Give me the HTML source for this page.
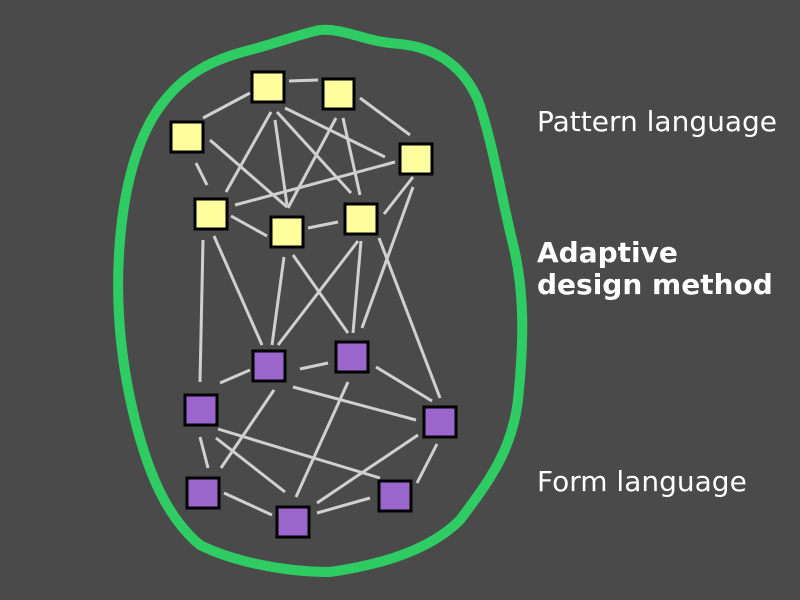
<!DOCTYPE html>
<html><head><style>
html,body{margin:0;padding:0;background:#4a4a4a;}
svg{display:block}
text{font-family:"DejaVu Sans","Liberation Sans",sans-serif;fill:#fff;font-size:28px}
</style></head><body>
<svg width="800" height="600" viewBox="0 0 800 600">
<rect width="800" height="600" fill="#4a4a4a"/>
<path d="M320,30 C345,28 365,42 400,44 C440,48 465,70 478,100 C492,140 500,190 512,240 C525,290 524,340 518,400 C512,450 490,480 460,520 C430,550 380,565 330,572 C280,572 230,560 200,545 C170,520 150,480 135,420 C120,360 115,300 120,240 C125,180 140,130 165,100 C185,75 210,60 250,50 C280,42 300,34 320,30 Z" fill="none" stroke="#2ecc63" stroke-width="10" stroke-linejoin="round"/>
<g stroke="#d0d0d0" stroke-width="3" stroke-linecap="butt">
<line x1="289" y1="81" x2="318" y2="80"/>
<line x1="250" y1="93" x2="203" y2="118"/>
<line x1="360" y1="98" x2="410" y2="135"/>
<line x1="285" y1="108" x2="385" y2="157"/>
<line x1="271" y1="112" x2="226" y2="192"/>
<line x1="275" y1="120" x2="287" y2="205"/>
<line x1="277" y1="112" x2="351" y2="193"/>
<line x1="336" y1="118" x2="288" y2="208"/>
<line x1="343" y1="118" x2="360" y2="195"/>
<line x1="210" y1="140" x2="287" y2="207"/>
<line x1="196" y1="163" x2="207" y2="185"/>
<line x1="395" y1="162" x2="235" y2="205"/>
<line x1="231" y1="216" x2="267" y2="236"/>
<line x1="308" y1="228" x2="338" y2="222"/>
<line x1="413" y1="177" x2="384" y2="214"/>
<line x1="413" y1="187" x2="362" y2="328"/>
<line x1="203" y1="240" x2="200" y2="382"/>
<line x1="214" y1="236" x2="262" y2="345"/>
<line x1="284" y1="257" x2="272" y2="345"/>
<line x1="293" y1="255" x2="348" y2="333"/>
<line x1="358" y1="241" x2="278" y2="345"/>
<line x1="361" y1="241" x2="353" y2="333"/>
<line x1="379" y1="238" x2="440" y2="398"/>
<line x1="220" y1="383" x2="250" y2="370"/>
<line x1="300" y1="369" x2="328" y2="363"/>
<line x1="376" y1="367" x2="432" y2="401"/>
<line x1="293" y1="387" x2="416" y2="420"/>
<line x1="218" y1="429" x2="380" y2="478"/>
<line x1="216" y1="438" x2="285" y2="492"/>
<line x1="200" y1="437" x2="208" y2="468"/>
<line x1="274" y1="390" x2="221" y2="468"/>
<line x1="348" y1="382" x2="296" y2="497"/>
<line x1="418" y1="435" x2="317" y2="503"/>
<line x1="437" y1="444" x2="417" y2="483"/>
<line x1="224" y1="493" x2="272" y2="515"/>
<line x1="317" y1="513" x2="370" y2="498"/>
</g>
<g stroke="#000" stroke-width="3" fill="#ffff9e">
<rect x="252" y="72" width="32" height="30"/>
<rect x="323" y="79" width="31" height="30"/>
<rect x="171" y="122" width="32" height="30"/>
<rect x="400" y="144" width="32" height="30"/>
<rect x="195" y="199" width="32" height="30"/>
<rect x="271" y="217" width="32" height="30"/>
<rect x="345" y="204" width="32" height="30"/>
</g>
<g stroke="#000" stroke-width="3" fill="#9b66cc">
<rect x="253" y="351" width="32" height="30"/>
<rect x="336" y="342" width="32" height="30"/>
<rect x="185" y="395" width="32" height="30"/>
<rect x="424" y="407" width="32" height="30"/>
<rect x="187" y="478" width="32" height="30"/>
<rect x="277" y="507" width="32" height="30"/>
<rect x="379" y="481" width="32" height="30"/>
</g>
<text x="537" y="131">Pattern language</text>
<text x="537" y="262" font-weight="bold">Adaptive</text>
<text x="537" y="294" font-weight="bold">design method</text>
<text x="537" y="491">Form language</text>
</svg>
</body></html>
